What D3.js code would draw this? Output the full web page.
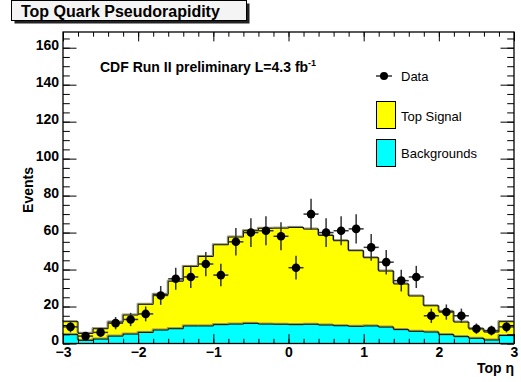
<!DOCTYPE html>
<html><head><meta charset="utf-8">
<script src="https://cdn.jsdelivr.net/npm/d3@7"></script>
<style>
html,body{margin:0;padding:0;background:#fff;}
svg{display:block;}
text{font-family:"Liberation Sans",Arial,Helvetica,sans-serif;}
</style></head>
<body>
<svg id="c" width="521" height="382"></svg>
<script>
// ---- data ----
const binEdges = [-3.0,-2.8,-2.6,-2.4,-2.2,-2.0,-1.8,-1.6,-1.4,-1.2,-1.0,-0.8,-0.6,-0.4,-0.2,0.0,
                  0.2,0.4,0.6,0.8,1.0,1.2,1.4,1.6,1.8,2.0,2.2,2.4,2.6,2.8,3.0];
const dataCounts = [9,4,6,11,13,16,26,35,36,43,37,55,60,61,58,41,70,60,61,62,52,44,34,36,15,17,15,8,7,9];
const backgrounds = [4.8,1.7,2.4,4.0,5.1,6.0,7.3,8.0,9.5,9.5,10.2,10.5,10.9,10.5,10.4,10.2,10.4,10.0,9.6,9.3,9.5,8.9,7.5,6.6,6.2,4.8,3.7,2.8,1.9,4.3];
const topSignal = [7.0,3.8,5.6,7.6,10.3,15.2,19.3,25.7,32.2,37.6,43.2,47.1,50.1,51.8,52.0,52.6,51.5,48.5,46.0,40.9,36.9,30.3,24.7,19.1,14.2,12.6,7.9,5.2,4.3,7.5];
const yMajorTicks = [0,20,40,60,80,100,120,140,160];
const xMajorTicks = [-3,-2,-1,0,1,2,3];
const yDomain = [0,168.5];
const xDomain = [-3,3];

// ---- setup ----
const svg = d3.select("#c");
const L=63, R=514, T=32, B=343.5;
const x = d3.scaleLinear().domain(xDomain).range([L,R]);
const y = d3.scaleLinear().domain(yDomain).range([B,T]);

const rows = dataCounts.map((d,i)=>({i, lo:binEdges[i], hi:binEdges[i+1], data:d, bg:backgrounds[i], sig:topSignal[i]}));
const stack = d3.stack().keys(["bg","sig"])(rows);

function stepPts(layer){
  const pts = layer.map((s,i)=>({x:rows[i].lo, y0:s[0], y1:s[1]}));
  const last = layer[layer.length-1];
  pts.push({x:rows[rows.length-1].hi, y0:last[0], y1:last[1]});
  return pts;
}
const area = d3.area().curve(d3.curveStepAfter).x(d=>x(d.x)).y0(d=>y(d.y0)).y1(d=>y(d.y1));
const line = d3.line().curve(d3.curveStepAfter).x(d=>x(d.x)).y(d=>y(d.y1));
const colors = ["#00ffff","#ffff00"];

const plot = svg.append("g");
stack.forEach((layer,k)=>{
  plot.append("path").datum(stepPts(layer)).attr("d",area).attr("fill",colors[k]);
});
stack.forEach((layer,k)=>{
  const pts = stepPts(layer);
  plot.append("path").datum(pts).attr("d",line).attr("fill","none")
    .attr("stroke","#8a8a6a").attr("stroke-width",1).attr("transform","translate(-1,-1)");
  plot.append("path").datum(pts).attr("d",line).attr("fill","none")
    .attr("stroke","#000").attr("stroke-width",1);
});

// data points with error bars
const pts = plot.append("g");
rows.forEach(r=>{
  const cx = x((r.lo+r.hi)/2), cy = y(r.data), e = Math.sqrt(r.data);
  pts.append("line").attr("x1",cx).attr("x2",cx).attr("y1",y(r.data-e)).attr("y2",y(r.data+e))
     .attr("stroke","#333").attr("stroke-width",1.5);
  pts.append("line").attr("x1",x(r.lo)).attr("x2",x(r.hi)).attr("y1",cy).attr("y2",cy)
     .attr("stroke","#333").attr("stroke-width",1.5);
  pts.append("circle").attr("cx",cx).attr("cy",cy).attr("r",4.3).attr("fill","#000");
});

// ---- axes ----
const yMinor = d3.range(0,168,5);
const xMinor = d3.range(-3,3.0001,0.2).map(v=>+v.toFixed(1));
const font = g=>g.selectAll("text").attr("font-family","Liberation Sans, Arial, sans-serif").attr("font-weight","bold").attr("font-size",14).attr("fill","#000");
const clean = g=>{g.select(".domain").remove(); g.selectAll("line").attr("stroke","#000");};

svg.append("g").attr("transform",`translate(${L},0)`)
  .call(d3.axisLeft(y).tickValues(yMinor).tickSizeInner(-6.8).tickSizeOuter(0).tickFormat(""))
  .call(clean);
svg.append("g").attr("transform",`translate(${L},0)`)
  .call(d3.axisLeft(y).tickValues(yMajorTicks).tickSizeInner(-13.5).tickSizeOuter(0).tickPadding(4).tickFormat(d3.format("d")))
  .call(clean).call(font)
  .call(g=>g.selectAll("text").attr("transform","translate(0,-3)"));
svg.append("g").attr("transform",`translate(${R},0)`)
  .call(d3.axisRight(y).tickValues(yMinor).tickSizeInner(-6.8).tickSizeOuter(0).tickFormat(""))
  .call(clean);
svg.append("g").attr("transform",`translate(${R},0)`)
  .call(d3.axisRight(y).tickValues(yMajorTicks).tickSizeInner(-13.5).tickSizeOuter(0).tickFormat(""))
  .call(clean);

svg.append("g").attr("transform",`translate(0,${B})`)
  .call(d3.axisBottom(x).tickValues(xMinor).tickSizeInner(-4.7).tickSizeOuter(0).tickFormat(""))
  .call(clean);
svg.append("g").attr("transform",`translate(0,${B})`)
  .call(d3.axisBottom(x).tickValues(xMajorTicks).tickSizeInner(-9.4).tickSizeOuter(0).tickPadding(3.5).tickFormat(d3.format("d")))
  .call(clean).call(font);
svg.append("g").attr("transform",`translate(0,${T})`)
  .call(d3.axisTop(x).tickValues(xMinor).tickSizeInner(-4.7).tickSizeOuter(0).tickFormat(""))
  .call(clean);
svg.append("g").attr("transform",`translate(0,${T})`)
  .call(d3.axisTop(x).tickValues(xMajorTicks).tickSizeInner(-9.4).tickSizeOuter(0).tickFormat(""))
  .call(clean);

// frame
svg.append("rect").attr("x",L).attr("y",T).attr("width",R-L).attr("height",B-T)
  .attr("fill","none").attr("stroke","#000").attr("stroke-width",1.3);

// axis titles
svg.append("text").attr("x",R).attr("y",373).attr("text-anchor","end")
  .attr("font-weight","bold").attr("font-size",14).text("Top η");
svg.append("text").attr("transform","translate(33,190) rotate(-90)").attr("text-anchor","middle")
  .attr("font-weight","bold").attr("font-size",14).text("Events");

// title box
svg.append("rect").attr("x",14.5).attr("y",3.5).attr("width",235).attr("height",20).attr("fill","#222");
svg.append("rect").attr("x",11.5).attr("y",0.5).attr("width",235).attr("height",20)
  .attr("fill","#f4f4f4").attr("stroke","#000").attr("stroke-width",1);
svg.append("text").attr("x",21).attr("y",17).attr("font-weight","bold").attr("font-size",16)
  .text("Top Quark Pseudorapidity");

// CDF label
const cdf = svg.append("text").attr("x",100).attr("y",72).attr("font-weight","bold").attr("font-size",14);
cdf.append("tspan").text("CDF Run II preliminary L=4.3 fb");
cdf.append("tspan").attr("font-size",9).attr("dy",-6).text("-1");

// legend
const lg = svg.append("g");
lg.append("line").attr("x1",376).attr("x2",392).attr("y1",76).attr("y2",76).attr("stroke","#000").attr("stroke-width",1.2);
lg.append("circle").attr("cx",384).attr("cy",76).attr("r",4).attr("fill","#000");
lg.append("text").attr("x",401).attr("y",80.5).attr("font-size",13).text("Data");
lg.append("rect").attr("x",376.5).attr("y",101.5).attr("width",19).attr("height",27)
  .attr("fill",colors[1]).attr("stroke","#000");
lg.append("text").attr("x",401).attr("y",120.5).attr("font-size",13).text("Top Signal");
lg.append("rect").attr("x",376.5).attr("y",139.5).attr("width",19).attr("height",27)
  .attr("fill",colors[0]).attr("stroke","#000");
lg.append("text").attr("x",401).attr("y",158).attr("font-size",13).text("Backgrounds");
</script>
</body></html>
